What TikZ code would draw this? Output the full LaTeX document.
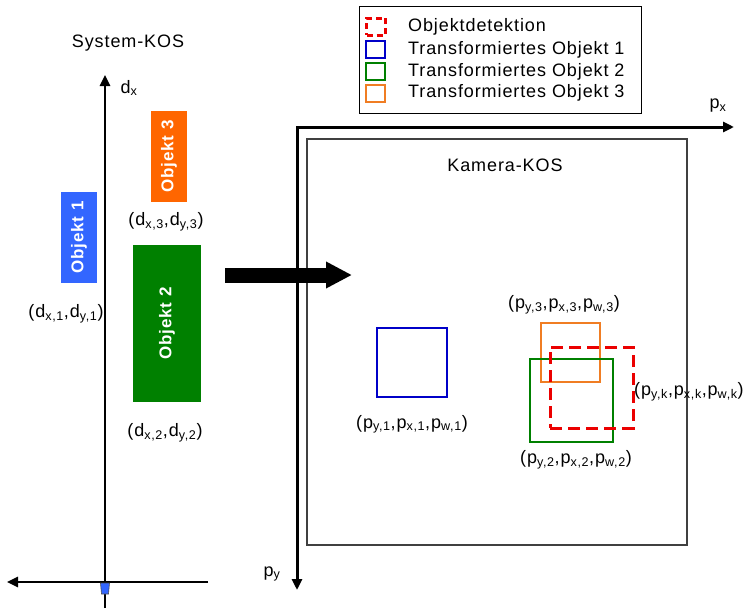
\documentclass[tikz,border=0pt]{standalone}
\usepackage{fontspec}
\setmainfont{Liberation Sans}[LetterSpace=5]
\usetikzlibrary{arrows.meta,positioning}

\definecolor{objblue}{RGB}{51,102,255}
\definecolor{objorange}{RGB}{255,102,0}
\definecolor{objgreen}{RGB}{0,128,0}
\definecolor{boxblue}{RGB}{0,0,200}
\definecolor{boxorange}{RGB}{240,125,35}
\definecolor{detred}{RGB}{235,0,0}

\begin{document}
\begin{tikzpicture}[x=1pt,y=-1pt,font=\fontsize{18}{20}\selectfont,
 obj/.style={rotate=90,text=white,inner sep=0pt,font=\fontsize{17}{19}\selectfont\bfseries},
 tbox/.style={draw,line width=2pt,inner sep=0pt},
 det/.style={draw=detred,line width=3pt,dash pattern=on 12pt off 6pt,inner sep=0pt},
 lbl/.style={inner sep=0pt},
 axis/.style={line width=2.5pt,-{Triangle[length=11pt,width=10pt]}},
 icon/.style={draw,line width=2pt,minimum width=19pt,minimum height=17pt,inner sep=0pt}]
\useasboundingbox (0,0) rectangle (747,608);

% system coordinates
\node[lbl] (syskos) at (128,43) {System-KOS};
\coordinate (dtop) at (105,75);
\coordinate (dbot) at (105,608);
\coordinate (hleft) at (7,582);
\coordinate (hright) at (208,582);
\draw[axis] (dbot) -- (dtop);
\draw[axis] (hright) -- (hleft);
\node[lbl] (dx) at (129,88) {d\textsubscript{x}};
\filldraw[fill=objblue,draw=black!70,line width=.6pt] (100.5,583) -- (109.5,583) -- (108.5,594) -- (101.5,594) -- cycle;

\node[obj,fill=objblue,minimum width=91pt,minimum height=36pt] (obj1) at (79,237.5) {Objekt 1};
\node[obj,fill=objorange,minimum width=91pt,minimum height=36pt] (obj3) at (169,156.5) {Objekt 3};
\node[obj,fill=objgreen,minimum width=157pt,minimum height=68pt] (obj2) at (167,323.5) {Objekt 2};
\node[lbl] (d1) at (66,314) {(d\textsubscript{x,1},d\textsubscript{y,1})};
\node[lbl] (d3) at (166,222) {(d\textsubscript{x,3},d\textsubscript{y,3})};
\node[lbl] (d2) at (165,433) {(d\textsubscript{x,2},d\textsubscript{y,2})};

% camera coordinates
\node[draw=black!75,line width=1.2pt,minimum width=380pt,minimum height=406pt,inner sep=0pt] (cam) at (497,342) {};
\node[lbl] (camkos) at (505,165) {Kamera-KOS};
\coordinate (pxend) at (734,127);
\coordinate (pyend) at (297,590);
\draw[line width=3pt,{Triangle[length=11pt,width=10pt]}-{Triangle[length=11pt,width=10pt]}] (pyend) |- (pxend);
\node[lbl] (px) at (718,106) {p\textsubscript{x}};
\node[lbl] (py) at (272,574) {p\textsubscript{y}};

\coordinate (arrS) at (225,275);
\coordinate (arrE) at (352,275);
\draw[line width=15pt,-{Triangle[length=26pt,width=25pt]}] (arrS) -- (arrE);

\node[tbox,draw=boxblue,minimum width=70pt,minimum height=69pt] (t1) at (412,362.5) {};
\node[lbl,below=17pt of t1] (p1) {(p\textsubscript{y,1},p\textsubscript{x,1},p\textsubscript{w,1})};
\node[tbox,draw=boxorange,minimum size=59pt] (t3) at (570.5,352.5) {};
\node[tbox,draw=objgreen,minimum size=83pt] (t2) at (571.5,400.5) {};
\node[det,minimum width=83pt,minimum height=81pt] (dk) at (591.5,387.5) {};
\node[lbl] (p3) at (564,305) {(p\textsubscript{y,3},p\textsubscript{x,3},p\textsubscript{w,3})};
\node[lbl] (p2) at (576,460) {(p\textsubscript{y,2},p\textsubscript{x,2},p\textsubscript{w,2})};
\node[lbl,anchor=west] (pk) at (634,392) {(p\textsubscript{y,k},p\textsubscript{x,k},p\textsubscript{w,k})};

% legend
\node[draw,line width=1pt,minimum width=282pt,minimum height=107pt,inner sep=0pt] (leg) at (500,59.5) {};
\node[icon,draw=detred,line width=3pt,dash pattern=on 6pt off 4pt] (ik) at (376,26.5) {};
\node[icon,draw=boxblue] (i1) at (375,49) {};
\node[icon,draw=objgreen] (i2) at (375,71) {};
\node[icon,draw=boxorange] (i3) at (375,93) {};
\node[lbl,anchor=west] (lk) at (408,27) {Objektdetektion};
\node[lbl,anchor=west] (l1) at (408,50) {Transformiertes Objekt 1};
\node[lbl,anchor=west] (l2) at (408,72) {Transformiertes Objekt 2};
\node[lbl,anchor=west] (l3) at (408,93) {Transformiertes Objekt 3};
\end{tikzpicture}
\end{document}
